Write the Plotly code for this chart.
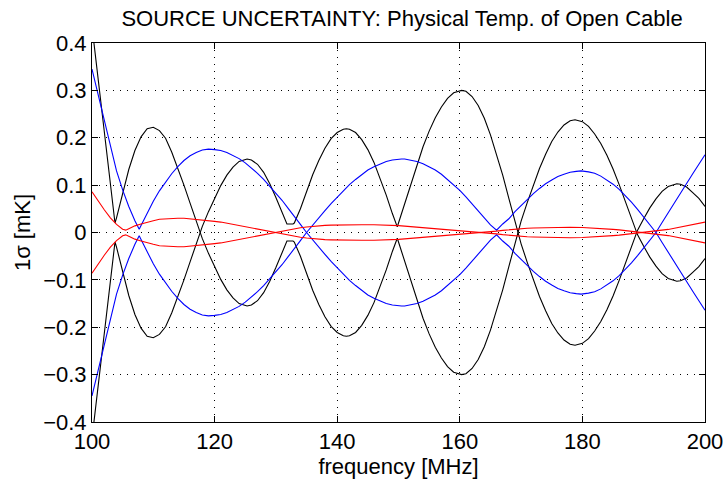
import plotly.graph_objects as go

# ---- data (upper curve of each ± pair; the lower curve is its mirror) ----
black_x = [100, 101, 102, 103, 103.75, 104, 105, 106, 107, 108, 109, 109.7, 110, 111, 112, 113, 114, 115, 116, 117,
           118, 119, 120, 121, 122, 123, 124, 125, 125.3, 126, 127, 128, 129, 130, 131, 131.8, 132.8, 133, 134, 135,
           136, 137, 138, 139, 140, 141, 141.5, 142, 143, 144, 145, 146, 147, 148, 149, 149.8, 150, 151, 152, 153,
           154, 155, 156, 157, 158, 159, 160, 160.3, 161, 162, 163, 164, 165, 166, 167, 168, 169, 170, 171, 172,
           173, 174, 175, 176, 177, 178, 178.8, 180, 181, 182, 183, 184, 185, 186, 187, 188, 189, 190, 191, 192,
           193, 194, 195, 195.4, 196, 197, 198, 199, 200]
black_y = [0.435, 0.325, 0.215, 0.11, 0.02, 0.031, 0.084, 0.133, 0.173, 0.202, 0.219, 0.222, 0.222, 0.215, 0.199, 0.170, 0.136, 0.100, 0.062, 0.024,
           -0.013, -0.044, -0.073, -0.099, -0.121, -0.138, -0.150, -0.155, -0.155, -0.153, -0.144, -0.127, -0.103, -0.074, -0.042, -0.018, -0.018, -0.020, -0.050, -0.087,
           -0.122, -0.152, -0.178, -0.198, -0.211, -0.218, -0.219, -0.218, -0.211, -0.196, -0.175, -0.148, -0.115, -0.079, -0.040, -0.012, -0.020, -0.061, -0.104, -0.144,
           -0.181, -0.214, -0.242, -0.265, -0.283, -0.295, -0.300, -0.300, -0.298, -0.287, -0.268, -0.241, -0.206, -0.166, -0.121, -0.072, -0.021, 0.024, 0.063, 0.100,
           0.135, 0.165, 0.192, 0.212, 0.227, 0.236, 0.238, 0.234, 0.224, 0.208, 0.188, 0.163, 0.134, 0.101, 0.066, 0.030, -0.005, -0.029, -0.052, -0.071,
           -0.087, -0.097, -0.102, -0.103, -0.102, -0.096, -0.084, -0.072, -0.055]

blue_x = [100, 101, 102, 103, 104, 105, 106, 107, 107.7, 108, 109, 110, 111, 112, 113, 114, 115, 116, 117, 118, 119,
          120, 121, 122, 123, 124, 125, 126, 127, 128, 129, 130, 131, 132, 133, 134, 135, 136, 137, 138, 139, 140,
          141, 142, 143, 144, 145, 146, 147, 148, 149, 150, 150.5, 151, 152, 153, 154, 155, 156, 157, 158, 159, 160,
          161, 162, 163, 164, 165, 166, 167, 168, 169, 170, 171, 172, 173, 174, 175, 176, 177, 178, 179, 179.8, 181,
          182, 183, 184, 185, 186, 187, 188, 189, 190, 191, 192, 193, 194, 195, 196, 197, 198, 199, 200]
blue_y = [0.345, 0.29, 0.235, 0.18, 0.13, 0.09, 0.055, 0.025, 0.007, 0.015, 0.042, 0.066, 0.088, 0.107, 0.124, 0.139, 0.152, 0.162, 0.169, 0.174, 0.176,
          0.175, 0.173, 0.169, 0.163, 0.156, 0.147, 0.137, 0.125, 0.112, 0.098, 0.083, 0.068, 0.051, 0.035, 0.017, 0.0, -0.016, -0.031, -0.046, -0.061, -0.075,
          -0.089, -0.101, -0.112, -0.123, -0.132, -0.139, -0.145, -0.150, -0.153, -0.155, -0.155, -0.155, -0.153, -0.150, -0.145, -0.139, -0.132, -0.123, -0.112, -0.101, -0.089,
          -0.075, -0.061, -0.046, -0.031, -0.016, -0.005, -0.018, -0.029, -0.044, -0.057, -0.070, -0.082, -0.093, -0.103, -0.111, -0.118, -0.123, -0.127, -0.129, -0.130, -0.128,
          -0.125, -0.119, -0.111, -0.102, -0.091, -0.078, -0.064, -0.049, -0.033, -0.017, 0.0, 0.021, 0.042, 0.063, 0.084, 0.104, 0.124, 0.144, 0.164]

red_x = [100, 101, 102, 103, 104, 105, 105.5, 106, 107, 108, 109, 110, 111, 112, 113, 114, 115, 116, 117, 118, 119,
         120, 121, 122, 123, 124, 125, 126, 127, 128, 129, 130, 131, 132, 133, 134, 135, 136, 137, 138, 139, 140,
         142, 144, 146, 148, 149, 150, 151, 152, 153, 154, 155, 156, 157, 158, 159, 160, 161, 162, 163, 164, 165,
         166, 167, 168, 169, 170, 171, 172, 173, 174, 175, 176, 178, 180, 181, 182, 183, 184, 185, 186, 187, 188,
         189, 190, 191, 192, 193, 194, 195, 196, 197, 198, 199, 200]
red_y = [0.086, 0.066, 0.048, 0.031, 0.017, 0.007, 0.005, 0.008, 0.014, 0.018, 0.022, 0.025, 0.028, 0.029, 0.030, 0.030, 0.030, 0.029, 0.028, 0.0265, 0.025,
         0.0235, 0.022, 0.0195, 0.017, 0.0145, 0.0115, 0.009, 0.0065, 0.004, 0.0015, -0.001, -0.004, -0.006, -0.008, -0.010, -0.0115, -0.013, -0.014, -0.015, -0.0155, -0.016,
         -0.0165, -0.0165, -0.0165, -0.016, -0.0155, -0.0145, -0.0135, -0.0125, -0.0115, -0.0105, -0.0095, -0.0085, -0.0075, -0.0065, -0.0055, -0.0045, -0.0035, -0.0025, -0.001, 0.0, 0.0015,
         0.003, 0.0045, 0.006, 0.007, 0.008, 0.009, 0.0095, 0.010, 0.0105, 0.011, 0.011, 0.011, 0.0105, 0.010, 0.0095, 0.0085, 0.0075, 0.0065, 0.0055, 0.004, 0.003,
         0.0015, 0.0005, -0.001, -0.0025, -0.0045, -0.0065, -0.009, -0.0115, -0.014, -0.0165, -0.019, -0.022]

x_ticks = [100, 120, 140, 160, 180, 200]
y_ticks = [-0.4, -0.3, -0.2, -0.1, 0, 0.1, 0.2, 0.3, 0.4]
y_tick_labels = ["\u22120.4", "\u22120.3", "\u22120.2", "\u22120.1", "0", "0.1", "0.2", "0.3", "0.4"]

series = [("black", black_x, black_y, "#000000"),
          ("blue", blue_x, blue_y, "#0000FF"),
          ("red", red_x, red_y, "#FF0000")]

fig = go.Figure()
for name, xs, ys, col in series:
    fig.add_trace(go.Scatter(x=xs, y=ys, mode="lines", line=dict(color=col, width=1.1), showlegend=False, name=name))
    fig.add_trace(go.Scatter(x=xs, y=[-v for v in ys], mode="lines", line=dict(color=col, width=1.1), showlegend=False, name=name))

font_family = "Liberation Sans, Arial, Helvetica, sans-serif"
FS = 22
axis_common = dict(
    showline=True, linecolor="black", linewidth=1, mirror="ticks",
    ticks="inside", ticklen=6, tickcolor="black", tickwidth=1,
    showgrid=True, gridcolor="black", gridwidth=1, griddash="1px,6px",
    zeroline=False, automargin=False,
    tickfont=dict(family=font_family, size=FS, color="black"),
)

fig.update_xaxes(range=[100, 200], tickvals=x_ticks,
                 title=dict(text="frequency [MHz]", font=dict(family=font_family, size=FS, color="black"), standoff=2),
                 **axis_common)
fig.update_yaxes(range=[-0.4, 0.4], tickvals=y_ticks, ticktext=y_tick_labels,
                 title=dict(text="1\u03c3 [mK]", font=dict(family=font_family, size=FS, color="black"), standoff=6),
                 **axis_common)

fig.update_layout(
    width=727, height=482,
    margin=dict(l=92, r=22, t=43, b=60),
    paper_bgcolor="white", plot_bgcolor="white",
    title=dict(text="SOURCE UNCERTAINTY: Physical Temp. of Open Cable",
               font=dict(family=font_family, size=FS, color="black"),
               x=0.553, xanchor="center", y=0.963, yanchor="middle"),
)

fig.write_html("out.html")
